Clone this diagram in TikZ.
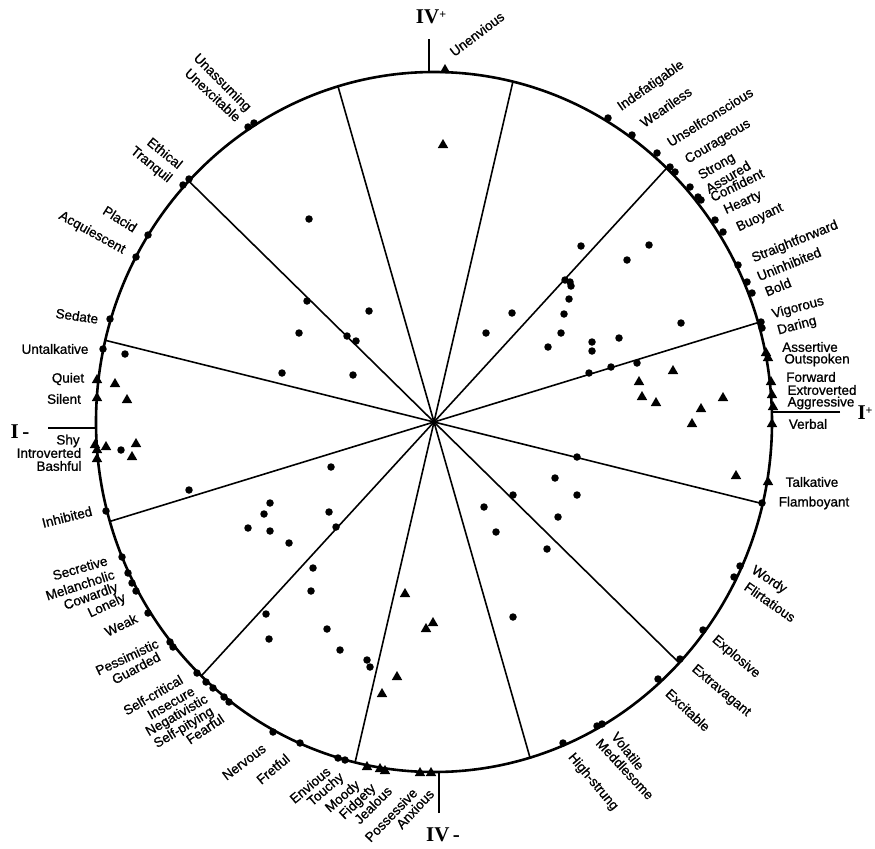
\documentclass[tikz,border=0pt]{standalone}
\usepackage{fontspec}
\setmainfont{Liberation Sans}[FakeBold=1]
\newfontfamily\traitfont{Liberation Sans}[FakeBold=0.9]
\newfontfamily\axisfont{Liberation Serif}
\usetikzlibrary{shapes.geometric}
\tikzset{
    dot-mark/.style = {circle, fill=black, inner sep=0pt, minimum size=7.5bp},
    tri-mark/.style = {regular polygon, regular polygon sides=3, fill=black, inner sep=0pt, minimum size=12bp},
    trait-label/.style = {font=\traitfont\fontsize{13.5bp}{14bp}\selectfont, inner sep=0pt},
    axis-label/.style = {font=\axisfont\bfseries\fontsize{21bp}{22bp}\selectfont, inner sep=0pt},
    rim-line/.style = {line width=2.6bp},
    spoke-line/.style = {line width=1.6bp},
}
\newcommand{\upsign}{\raisebox{5bp}{\fontsize{12bp}{12bp}\selectfont +}}

\begin{document}
\begin{tikzpicture}[x=1bp, y=-1bp]
\useasboundingbox (0,0) rectangle (875,849);
\coordinate (hub) at (434,422);
\draw[rim-line] (hub) ellipse [x radius=338bp, y radius=350bp];
\begin{scope}[shift={(434,422)}]
\foreach \k [evaluate=\k as \a using -16.5-30*\k] in {0,...,11}
    \coordinate (rim-\k) at (\a:338 and 350);
\end{scope}
\foreach \k in {0,...,11}
    \draw[spoke-line] (hub) -- (rim-\k);

\node[axis-label] (iv-plus) at (431,17) {IV\upsign};
\node[axis-label] (iv-minus) at (443,835) {IV\,-};
\node[axis-label] (i-minus) at (20,432) {I\,-};
\node[axis-label] (i-plus) at (865,413) {I\upsign};
\coordinate (iv-plus-tick) at (429,39);
\coordinate (iv-plus-rim) at (429,72);
\coordinate (iv-minus-tick) at (439,813);
\coordinate (iv-minus-rim) at (439,772);
\coordinate (i-minus-tick) at (48,428);
\coordinate (i-minus-rim) at (96,428);
\coordinate (i-plus-tick) at (840,412);
\coordinate (i-plus-rim) at (772,412);
\draw[rim-line] (iv-plus-tick) -- (iv-plus-rim);
\draw[rim-line] (iv-minus-tick) -- (iv-minus-rim);
\draw[rim-line] (i-minus-tick) -- (i-minus-rim);
\draw[rim-line] (i-plus-tick) -- (i-plus-rim);

\foreach \x/\y [count=\i] in {248/127, 254/123, 183/185, 189/179, 148/235, 136/257, 110/319, 103/349,
    106/511, 122/557, 128/573, 132/583, 136/591, 148/613, 170/642, 173/647, 197/673, 206/682,
    213/688, 224/697, 229/702, 273/732, 300/743, 338/758, 345/760, 563/743, 597/726, 602/724,
    658/679, 680/659, 703/630, 734/577, 740/566, 762/503, 761/322, 762/328, 752/293, 747/282,
    738/265, 723/232, 715/220, 701/200, 698/197, 690/187, 675/172, 670/167, 657/153, 632/135, 608/118,
    309/219, 307/301, 369/311, 299/333, 347/336, 356/341, 282/373, 353/375, 125/354, 121/450,
    189/490, 331/467, 270/503, 264/514, 248/528, 270/531, 289/543, 329/512, 336/527, 313/568,
    311/591, 266/614, 269/639, 327/629, 340/650, 367/660, 370/667,
    581/246, 649/245, 627/260, 565/280, 570/282, 571/286, 569/299, 512/313, 564/314, 681/323,
    486/333, 561/333, 548/347, 592/342, 592/351, 619/338, 589/373, 611/367, 637/363,
    577/457, 555/478, 577/495, 513/495, 484/507, 558/517, 496/532, 547/549, 513/617}
    \node[dot-mark] (dot-\i) at (\x,\y) {};

\foreach \x/\y [count=\i] in {445/70, 97/380, 97/398, 95/445, 97/450, 97/459, 367/767, 380/769,
    385/771, 420/773, 431/773, 768/482, 766/353, 768/358, 771/382, 772/395, 773/407, 772/424,
    443/145, 115/384, 127/400, 106/447, 136/444, 132/457, 405/594, 426/629, 433/623, 397/677,
    382/694, 673/371, 639/382, 642/397, 656/403, 723/398, 701/409, 692/424, 736/476}
    \node[tri-mark] (tri-\i) at (\x,\y) {};

\foreach \x/\y/\r/\t in {222/83/-45/Unassuming, 213/95/-43/Unexcitable, 165/153/-39/Ethical,
    151/165/-39/Tranquil, 120/219/-32/Placid, 92/233/-29/Acquiescent, 77/316/-8/Sedate,
    55/349/0/Untalkative, 68/379/0/Quiet, 64/399/0/Silent, 68/441/0/Shy, 49/453/0/Introverted,
    59/466/0/Bashful, 67/517/14/Inhibited, 80/568/16/Secretive, 80/585/18/Melancholic,
    91/597/20/Cowardly, 107/606/25/Lonely, 121/625/26/Weak, 127/657/25/Pessimistic,
    136/668/28/Guarded, 153/695/30/Self-critical, 171/703/30/Insecure, 177/716/30/Negativistic,
    184/728/31/Self-pitying, 205/729/34/Fearful, 244/762/37/Nervous, 273/769/40/Fretful,
    310/785/40/Envious, 326/790/41/Touchy, 343/797/41/Moody, 358/802/44/Fidgety,
    373/805/45/Jealous, 391/815/46/Possessive, 415/809/47/Anxious,
    593/782/-50/High-strung, 625/769/-47/Meddlesome, 628/751/-52/Volatile, 688/710/-43/Excitable,
    721/691/-40/Extravagant, 736/657/-40/Explosive, 770/602/-35/Flirtatious, 769/580/-33/Wordy,
    814/503/0/Flamboyant, 812/482/0/Talkative, 808/424/0/Verbal, 821/403/0/Aggressive,
    822/390/0/Extroverted, 811/377/0/Forward, 817/360/0/Outspoken, 810/347/0/Assertive,
    797/326/15/Daring, 798/308/15/Vigorous, 778/287/22/Bold, 789/264/22/Uninhibited,
    795/242/22/Straightforward, 760/218/25/Buoyant, 743/203/24/Hearty, 737/185/26/Confident,
    728/177/31/Assured, 717/167/30/Strong, 718/142/31/Courageous, 710/117/32/Unselfconscious,
    666/107/35/Weariless, 651/86/35/Indefatigable, 477/34/37/Unenvious}
    \node[trait-label, rotate=\r] (lab-\t) at (\x,\y) {\t};
\end{tikzpicture}
\end{document}
